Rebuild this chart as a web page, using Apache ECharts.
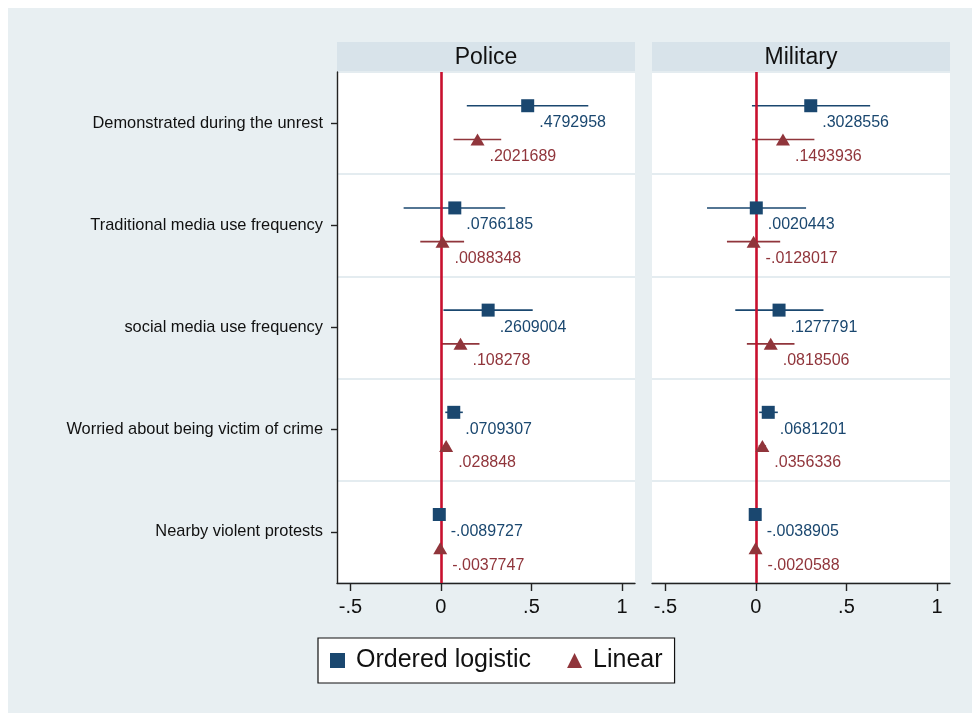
<!DOCTYPE html>
<html>
<head>
<meta charset="utf-8">
<script src="https://cdn.jsdelivr.net/npm/echarts@6/dist/echarts.min.js"></script>
<style>
  html, body { margin: 0; padding: 0; background: #ffffff; }
  #chart { width: 972px; height: 713px; }
</style>
</head>
<body>
<div id="chart"></div>
<script>
// Predictors, listed top to bottom
const categories = [
  'Demonstrated during the unrest',
  'Traditional media use frequency',
  'social media use frequency',
  'Worried about being victim of crime',
  'Nearby violent protests'
];
const panels = ['Police', 'Military'];

// Point estimates
const policeOrdered  = [0.4792958, 0.0766185, 0.2609004, 0.0709307, -0.0089727];
const policeLinear   = [0.2021689, 0.0088348, 0.108278, 0.028848, -0.0037747];
const militaryOrdered = [0.3028556, 0.0020443, 0.1277791, 0.0681201, -0.0038905];
const militaryLinear  = [0.1493936, -0.0128017, 0.0818506, 0.0356336, -0.0020588];

// Confidence intervals [low, high]
const policeOrderedCI  = [[0.143, 0.814], [-0.206, 0.355], [0.014, 0.507], [0.024, 0.121], [-0.022, 0.004]];
const policeLinearCI   = [[0.070, 0.333], [-0.114, 0.128], [0.002, 0.213], [0.012, 0.046], [-0.010, 0.003]];
const militaryOrderedCI = [[-0.022, 0.631], [-0.270, 0.277], [-0.114, 0.373], [0.018, 0.121], [-0.015, 0.007]];
const militaryLinearCI  = [[-0.022, 0.323], [-0.160, 0.134], [-0.050, 0.213], [0.015, 0.056], [-0.008, 0.004]];

// X axis ticks
const xTicks = [-0.5, 0, 0.5, 1];

const BLUE = '#1a476f';
const RED = '#90353b';
const ZERO = '#c8102e';
const FONT = '"Liberation Sans", Arial, sans-serif';

// vertical offsets of the two models within each row (row units)
const OFF_ORD = -0.17;
const OFF_LIN = 0.16;

function stataNum(v) {
  return String(v).replace(/^(-?)0\./, '$1.');
}

const grids = [
  { left: 337, top: 72, width: 298, height: 511, backgroundColor: '#ffffff', show: true, borderWidth: 0 },
  { left: 652, top: 72, width: 298, height: 511, backgroundColor: '#ffffff', show: true, borderWidth: 0 }
];

const xAxes = [0, 1].map(i => ({
  type: 'value', gridIndex: i, min: -0.574, max: 1.072,
  axisLine: { show: true, onZero: false, lineStyle: { color: '#222', width: 1.4 } },
  axisTick: { show: true, customValues: xTicks, length: 8, lineStyle: { color: '#222', width: 1.4 } },
  axisLabel: { customValues: xTicks, formatter: v => stataNum(v), fontSize: 20, color: '#111', fontFamily: FONT, margin: 14 },
  splitLine: { show: false }
}));

const yAxes = [];
[0, 1].forEach(i => {
  // category axis: labels, ticks and row separators
  yAxes.push({
    type: 'category', gridIndex: i, data: categories, inverse: true, boundaryGap: true,
    axisLine: { show: i === 0, onZero: false, lineStyle: { color: '#222', width: 1.4 } },
    axisTick: { show: i === 0, alignWithLabel: true, length: 6, lineStyle: { color: '#222', width: 1.4 } },
    axisLabel: { show: i === 0, fontSize: 16.4, color: '#111', fontFamily: FONT, margin: 14, padding: [4, 0, 0, 0] },
    splitLine: { show: true, lineStyle: { color: '#e4ecf0', width: 2 } }
  });
  // value axis used to place the marks
  yAxes.push({
    type: 'value', gridIndex: i, min: -0.5, max: 4.5, inverse: true, show: false,
    splitLine: { show: false }
  });
});

function pointData(vals, off) {
  return vals.map((v, k) => [v, k + off]);
}
function ciData(ci, off) {
  return ci.map((c, k) => [c[0], c[1], k + off]);
}

function errorBars(name, ci, off, panel, color) {
  return {
    type: 'custom', name: name, xAxisIndex: panel, yAxisIndex: panel * 2 + 1,
    data: ciData(ci, off), silent: true, z: 3,
    encode: { x: [0, 1], y: 2 },
    renderItem: (params, api) => {
      const a = api.coord([api.value(0), api.value(2)]);
      const b = api.coord([api.value(1), api.value(2)]);
      return { type: 'line', shape: { x1: a[0], y1: a[1], x2: b[0], y2: b[1] },
               style: { stroke: color, lineWidth: 1.6 } };
    }
  };
}

function points(name, vals, off, panel, color, symbol, size, withZero) {
  const s = {
    type: 'scatter', name: name, xAxisIndex: panel, yAxisIndex: panel * 2 + 1,
    data: pointData(vals, off), symbol: symbol, symbolSize: size, z: 5,
    itemStyle: { color: color, opacity: 1 },
    label: {
      show: true, position: 'right', distance: 5, offset: [0, 17],
      formatter: p => stataNum(p.value[0]),
      color: color, fontSize: 16, fontFamily: FONT
    }
  };
  if (withZero) {
    s.markLine = {
      silent: true, symbol: ['none', 'none'], animation: false,
      label: { show: false },
      lineStyle: { color: ZERO, width: 2.6, type: 'solid' },
      data: [{ xAxis: 0 }]
    };
  }
  return s;
}

const series = [
  errorBars('Police OL CI', policeOrderedCI, OFF_ORD, 0, BLUE),
  errorBars('Police Lin CI', policeLinearCI, OFF_LIN, 0, RED),
  points('Ordered logistic', policeOrdered, OFF_ORD, 0, BLUE, 'rect', 13, true),
  points('Linear', policeLinear, OFF_LIN, 0, RED, 'triangle', [14, 12], false),
  errorBars('Military OL CI', militaryOrderedCI, OFF_ORD, 1, BLUE),
  errorBars('Military Lin CI', militaryLinearCI, OFF_LIN, 1, RED),
  points('Ordered logistic', militaryOrdered, OFF_ORD, 1, BLUE, 'rect', 13, true),
  points('Linear', militaryLinear, OFF_LIN, 1, RED, 'triangle', [14, 12], false)
];

const headerH = 30;
const graphic = [
  { type: 'rect', z: -100, silent: true, shape: { x: 8, y: 8, width: 972, height: 713 }, style: { fill: '#e8eff2' } }
];
grids.forEach((g, i) => {
  graphic.push({ type: 'rect', silent: true, shape: { x: g.left, y: g.top - headerH, width: g.width, height: headerH }, style: { fill: '#d8e3ea' } });
  graphic.push({ type: 'text', silent: true, x: g.left + g.width / 2, y: g.top - headerH / 2 + 1,
    style: { text: panels[i], fontSize: 23, fontFamily: FONT, fill: '#111', align: 'center', verticalAlign: 'middle' } });
});

const chart = echarts.init(document.getElementById('chart'), null, { renderer: 'canvas' });
chart.setOption({
  animation: false,
  backgroundColor: '#ffffff',
  grid: grids,
  xAxis: xAxes,
  yAxis: yAxes,
  graphic: graphic,
  legend: {
    data: [
      { name: 'Ordered logistic', icon: 'rect' },
      { name: 'Linear', icon: 'triangle' }
    ],
    left: 318, top: 638,
    orient: 'horizontal',
    backgroundColor: '#ffffff',
    borderColor: '#111', borderWidth: 1.2,
    padding: [10, 12, 10, 12],
    itemGap: 36, itemWidth: 15, itemHeight: 15,
    textStyle: { fontSize: 25, fontFamily: FONT, color: '#111', padding: [0, 0, 0, 6] },
    selectedMode: false
  },
  series: series
});
</script>
</body>
</html>
